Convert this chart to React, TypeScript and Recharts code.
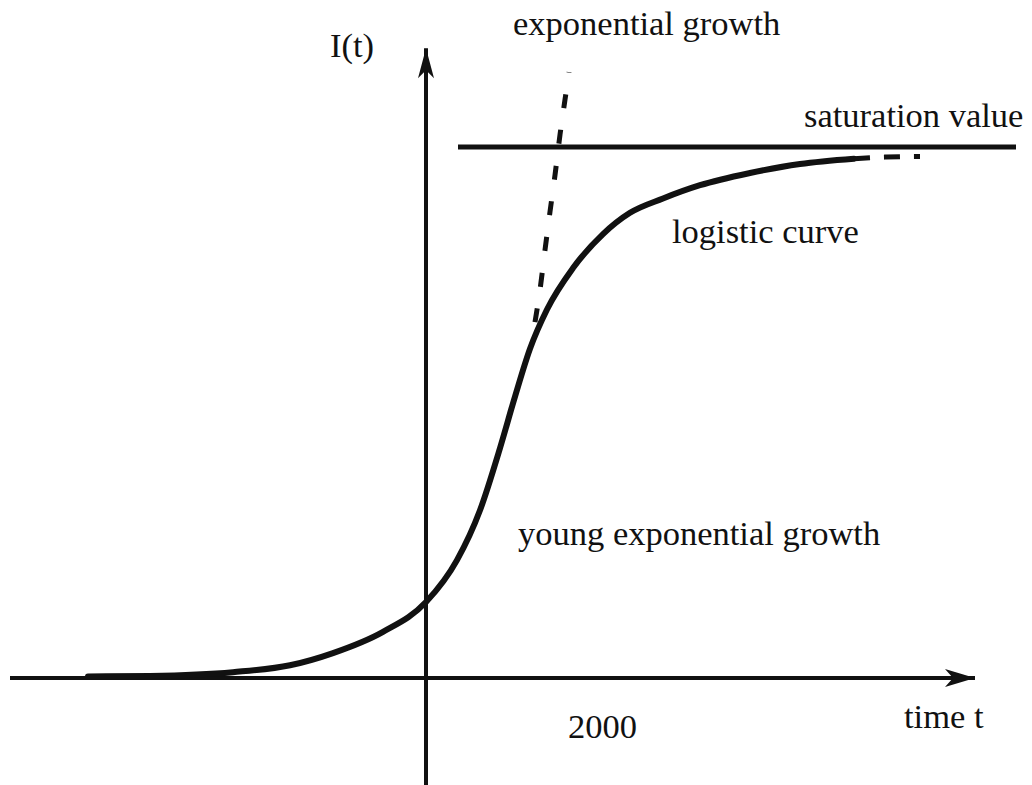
import React from 'react'
import { ComposedChart, Line, XAxis, YAxis, ReferenceDot } from 'recharts'

// t: arbitrary time units (0 = vertical axis), I: value where saturation = 100
const logisticT = [-16.9, -13.8, -9.65, -6.8, -4.65, -2.15, 0, 1.55, 2.7, 3.7, 4.45, 5.2, 6.05, 7.35, 8.85, 10.2, 11.85, 13.7, 16.2, 18.7, 21.4]
const logisticI = [0.3, 0.4, 1.1, 2.4, 4.7, 8.7, 14.3, 22.2, 31.6, 43.3, 53.0, 62.0, 69.4, 77.2, 83.6, 87.6, 90.3, 92.8, 95.1, 96.8, 97.8]

const tailT = [21.4, 23.0, 24.7]
const tailI = [97.8, 98.1, 98.2]

const expT = [5.45, 5.7, 5.95, 6.2, 6.45, 6.7, 6.95, 7.15]
const expI = [67.0, 73.1, 80.6, 87.8, 94.7, 102.3, 108.9, 114.1]

const saturationT = [1.6, 29.5]
const saturationValue = 100

const timeAxisT = [-20.8, 27.45]
const valueAxisI = [-20.15, 118.6]

const labelTexts = ['I(t)', 'exponential growth', 'saturation value', 'logistic curve', 'young exponential growth', '2000', 'time t']
const labelT = [-4.8, 4.35, 18.9, 12.3, 4.6, 7.1, 23.9]
const labelI = [116.9, 121.1, 103.8, 81.9, 25.0, -11.3, -9.4]

const INK = '#111'

const toRows = (ts: number[], vs: number[], key: string) => ts.map((t, i) => ({ t, [key]: vs[i] }))

const logisticData = toRows(logisticT, logisticI, 'I')
const tailData = toRows(tailT, tailI, 'I')
const expData = toRows(expT, expI, 'I')
const saturationData = saturationT.map(t => ({ t, I: saturationValue }))
const timeAxisData = timeAxisT.map(t => ({ t, I: 0 }))
const valueAxisData = valueAxisI.map(I => ({ t: 0, I }))

const arrowRight = (props: any) => {
  const { cx, cy, index, points } = props
  if (index !== points.length - 1) return <g key={`ar-${index}`} />
  return (
    <polygon
      key={`ar-${index}`}
      points={`${cx},${cy} ${cx - 30},${cy - 9} ${cx - 22},${cy} ${cx - 30},${cy + 9}`}
      fill={INK}
    />
  )
}

const arrowUp = (props: any) => {
  const { cx, cy, index, points } = props
  if (index !== points.length - 1) return <g key={`au-${index}`} />
  return (
    <polygon
      key={`au-${index}`}
      points={`${cx},${cy} ${cx - 8},${cy + 30} ${cx},${cy + 22} ${cx + 8},${cy + 30}`}
      fill={INK}
    />
  )
}

const textLabel = (text: string) => (props: any) => {
  const { viewBox } = props
  return (
    <text x={viewBox.x} y={viewBox.y} fill={INK} fontSize={34.5} fontFamily="'Liberation Serif', 'Times New Roman', serif">
      {text}
    </text>
  )
}

export default function App() {
  return (
    <div style={{ position: 'fixed', left: 0, top: 0, width: 1032, height: 785, background: '#fff' }}>
      <ComposedChart width={1032} height={785} margin={{ top: 0, right: 0, bottom: 0, left: 0 }}>
        <XAxis type="number" dataKey="t" domain={[-21.3, 30.3]} allowDataOverflow hide />
        <YAxis type="number" dataKey="I" domain={[-20.15, 127.68]} allowDataOverflow hide />

        <Line data={timeAxisData} dataKey="I" type="linear" stroke={INK} strokeWidth={4} dot={arrowRight} activeDot={false} isAnimationActive={false} />
        <Line data={valueAxisData} dataKey="I" type="linear" stroke={INK} strokeWidth={4} dot={arrowUp} activeDot={false} isAnimationActive={false} />
        <Line data={saturationData} dataKey="I" type="linear" stroke={INK} strokeWidth={5} dot={false} activeDot={false} isAnimationActive={false} />
        <Line data={expData} dataKey="I" type="monotone" stroke={INK} strokeWidth={5} strokeDasharray="14 22" dot={false} activeDot={false} isAnimationActive={false} />
        <Line data={logisticData} dataKey="I" type="monotone" stroke={INK} strokeWidth={6} strokeLinecap="round" dot={false} activeDot={false} isAnimationActive={false} />
        <Line data={tailData} dataKey="I" type="monotone" stroke={INK} strokeWidth={5} strokeDasharray="16 14" dot={false} activeDot={false} isAnimationActive={false} />

        {labelTexts.map((text, i) => (
          <ReferenceDot key={text} x={labelT[i]} y={labelI[i]} r={0} fill="none" stroke="none" label={textLabel(text)} />
        ))}
      </ComposedChart>
    </div>
  )
}
